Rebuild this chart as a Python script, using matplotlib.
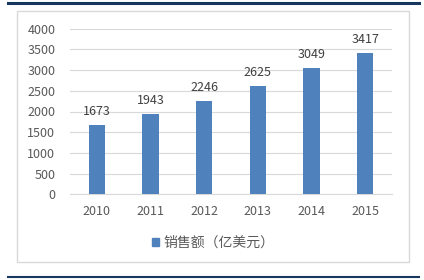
import matplotlib
matplotlib.use("Agg")
import matplotlib.pyplot as plt
from matplotlib.patches import Rectangle, Patch
from matplotlib.lines import Line2D

plt.rcParams['font.family'] = ['Noto Sans CJK SC', 'DejaVu Sans']

years = ['2010', '2011', '2012', '2013', '2014', '2015']
sales = [1673, 1943, 2246, 2625, 3049, 3417]
series_name = '销售额（亿美元）'
yticks = [0, 500, 1000, 1500, 2000, 2500, 3000, 3500, 4000]

W, H = 424, 280
fig = plt.figure(figsize=(W/100, H/100), dpi=100)
text_color = '#595959'
bar_color = '#4F81BD'
fs = 9

# outer lines and inner box
fig.add_artist(Line2D([8/W, 419/W], [1-2.5/H, 1-2.5/H], color='#17375E', lw=2.2))
fig.add_artist(Line2D([8/W, 419/W], [1-277/H, 1-277/H], color='#17375E', lw=1.5))
fig.add_artist(Rectangle((16.5/W, 1-262/H), (409-16.5)/W, (262-11)/H,
                         fill=False, edgecolor='#D9D9D9', lw=1))

ax = fig.add_axes([70/W, 1-194.3/H, (392-70)/W, (194.3-28.7)/H])
x = range(len(years))
ax.bar(x, sales, width=0.30, color=bar_color, zorder=3)
for xi, v in zip(x, sales):
    ax.annotate(str(v), (xi, v), xytext=(0, 7.2), textcoords='offset points',
                ha='center', va='baseline', fontsize=fs, color='#404040')
ax.set_xlim(-0.5, len(years) - 0.5)
ax.set_ylim(0, 4000)
ax.set_yticks(yticks)
ax.set_yticklabels([str(t) for t in yticks])
ax.set_xticks(list(x))
ax.set_xticklabels(years)
ax.tick_params(axis='both', length=0, labelsize=fs, colors=text_color)
ax.tick_params(axis='y', pad=10.5)
ax.tick_params(axis='x', pad=8)
ax.grid(axis='y', color='#D9D9D9', lw=0.8, zorder=0)
for s in ['top', 'right', 'left']:
    ax.spines[s].set_visible(False)
ax.spines['bottom'].set_color('#D9D9D9')
ax.spines['bottom'].set_linewidth(0.8)

fig.legend(handles=[Patch(color=bar_color, label=series_name)],
           loc='center', bbox_to_anchor=(213/W, 1-243/H), frameon=False,
           fontsize=10, labelcolor=text_color, handlelength=0.55, handleheight=0.55,
           handletextpad=0.3)

fig.savefig('out.png', dpi=100)
